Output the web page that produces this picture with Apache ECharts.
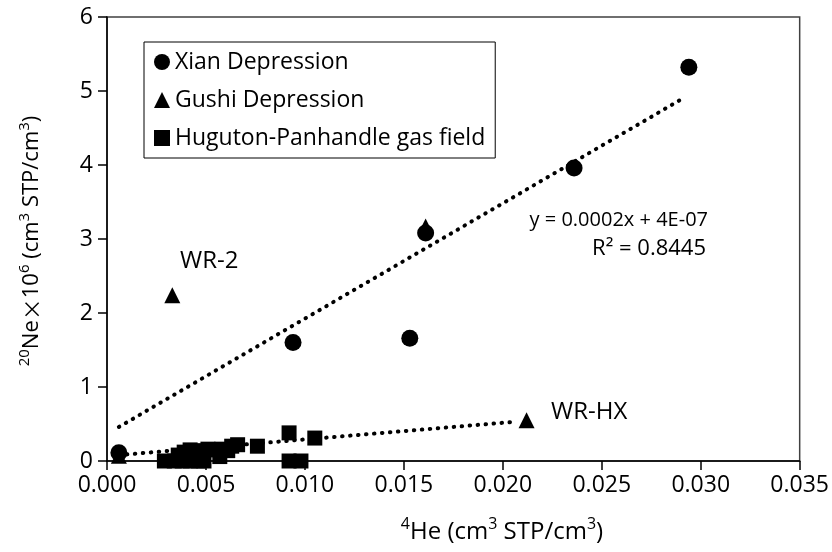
<!DOCTYPE html>
<html><head><meta charset="utf-8">
<script src="https://cdn.jsdelivr.net/npm/echarts@6/dist/echarts.min.js"></script>
<style>html,body{margin:0;padding:0;background:#fff}#c{width:832px;height:552px}</style>
</head><body><div id="c"></div>
<script>
const xTicks = [0, 0.005, 0.010, 0.015, 0.020, 0.025, 0.030, 0.035];
const yTicks = [0, 1, 2, 3, 4, 5, 6];
const xian = [[0.0006,0.11],[0.0094,1.60],[0.0153,1.66],[0.0161,3.08],[0.0236,3.96],[0.0294,5.32]];
const gushi = [[0.0006,0.07],[0.0033,2.24],[0.0161,3.17],[0.0212,0.55]];
const huguton = [
  [0.0029,0.0],[0.0034,0.0],[0.0038,0.0],[0.0042,0.0],[0.0046,0.0],[0.0049,0.0],[0.0092,0.0],[0.0098,0.0],
  [0.0036,0.08],[0.0039,0.12],[0.0042,0.15],[0.0045,0.10],[0.0048,0.14],[0.0051,0.16],[0.0054,0.15],
  [0.0057,0.06],[0.0058,0.16],[0.0061,0.14],[0.0063,0.20],[0.0066,0.22],[0.0076,0.20],[0.0092,0.38],[0.0105,0.31]
];
const trendUpper = [[0.0006,0.46],[0.0291,4.90]];
const trendLower = [[0.0006,0.08],[0.0206,0.53]];
const names = ['Xian Depression','Gushi Depression','Huguton-Panhandle gas field'];
const xTitle = '{s|4}{n|He (cm}{s|3}{n| STP/cm}{s|3}{n|)}';
const yTitle = '{s|20}{n|Ne}{x|×}{n|10}{s|6}{n| (cm}{s|3}{n| STP/cm}{s|3}{n|)}';

const FONT = 'Open Sans';
const chart = echarts.init(document.getElementById('c'), null, {renderer:'canvas'});
function richSet(n, s, pad) {
  return {
    n: {fontFamily: FONT, fontSize: n, fill: '#000', lineHeight: n + 6, verticalAlign: 'bottom'},
    s: {fontFamily: FONT, fontSize: s, fill: '#000', lineHeight: s, verticalAlign: 'bottom', padding: [0,0,pad,0]},
    x: {fontFamily: '"Noto Sans CJK SC"', fontSize: n, fill: '#000', lineHeight: n + 6, verticalAlign: 'bottom'}
  };
}
chart.setOption({
  animation: false,
  grid: {left: 107, right: 32, top: 17, bottom: 91, show: true, borderColor: '#404040', borderWidth: 1.5},
  xAxis: {
    type: 'value', min: xTicks[0], max: xTicks[xTicks.length-1], interval: 0.005,
    axisLine: {show: true, lineStyle: {color: '#000', width: 1.5}},
    axisTick: {show: true, inside: false, length: 9, lineStyle: {color: '#000', width: 1.5}},
    splitLine: {show: false},
    axisLabel: {fontFamily: FONT, fontSize: 23, color: '#000', margin: 13, formatter: v => v.toFixed(3)}
  },
  yAxis: {
    type: 'value', min: yTicks[0], max: yTicks[yTicks.length-1], interval: 1,
    axisLine: {show: true, onZero: false, lineStyle: {color: '#000', width: 1.5}},
    axisTick: {show: true, inside: false, length: 9, lineStyle: {color: '#000', width: 1.5}},
    splitLine: {show: false},
    axisLabel: {fontFamily: FONT, fontSize: 23, color: '#000', margin: 14}
  },
  legend: {
    orient: 'vertical', left: 144, top: 42,
    data: names,
    borderColor: '#000', borderWidth: 1, padding: [8, 10, 8, 10],
    itemGap: 14, itemWidth: 16, itemHeight: 16,
    textStyle: {fontFamily: FONT, fontSize: 23, color: '#000', lineHeight: 24}
  },
  series: [
    {name: names[2], type: 'scatter', symbol: 'rect', symbolSize: 15, data: huguton, itemStyle: {color: '#000', opacity: 1}, z: 3},
    {name: names[1], type: 'scatter', symbol: 'triangle', symbolSize: 16, data: gushi, itemStyle: {color: '#000', opacity: 1}, z: 4},
    {name: names[0], type: 'scatter', symbol: 'circle', symbolSize: 17, data: xian, itemStyle: {color: '#000', opacity: 1}, z: 5},
    {type: 'line', data: trendUpper, symbol: 'none', silent: true, z: 2,
     lineStyle: {color: '#000', width: 4, type: [0.5, 7.5], cap: 'round'}},
    {type: 'line', data: trendLower, symbol: 'none', silent: true, z: 2,
     lineStyle: {color: '#000', width: 4, type: [0.5, 7.5], cap: 'round'}}
  ],
  graphic: [
    {type: 'text', x: 502, y: 529, style: {text: xTitle, rich: richSet(24, 16, 12), align: 'center', verticalAlign: 'middle'}},
    {type: 'text', x: 29, y: 241, rotation: Math.PI / 2, style: {text: yTitle, rich: richSet(22, 15, 11), align: 'center', verticalAlign: 'middle'}},
    {type: 'text', left: 180, top: 249, style: {text: 'WR-2', fontFamily: FONT, fontSize: 24, fill: '#000'}},
    {type: 'text', left: 551, top: 400, style: {text: 'WR-HX', fontFamily: FONT, fontSize: 24, fill: '#000'}},
    {type: 'text', right: 124, top: 210, style: {text: 'y = 0.0002x + 4E-07', fontFamily: FONT, fontSize: 20, fill: '#000'}},
    {type: 'text', right: 126, top: 238, style: {text: 'R² = 0.8445', fontFamily: FONT, fontSize: 22, fill: '#000'}}
  ]
});
</script></body></html>
